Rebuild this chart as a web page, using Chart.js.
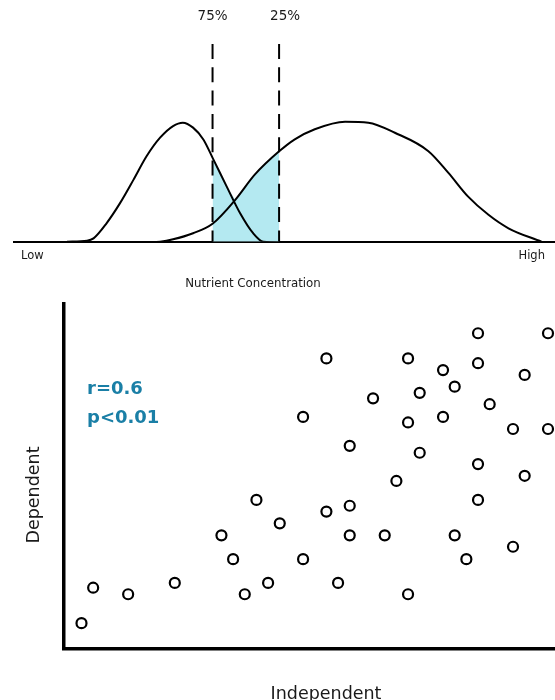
<!DOCTYPE html>
<html>
<head>
<meta charset="utf-8">
<title>Nutrient concentration / dependent vs independent</title>
<script src="https://cdn.jsdelivr.net/npm/chart.js@4.4.1/dist/chart.umd.min.js"></script>
<style>
  html, body { margin: 0; padding: 0; background: #fff; }
  #wrap { position: relative; width: 555px; height: 700px; overflow: hidden; }
  canvas { position: absolute; left: 0; }
  #densityChart { top: 0; }
  #scatterChart { top: 300px; }
</style>
</head>
<body>
<div id="wrap">
  <canvas id="densityChart" width="555" height="300"></canvas>
  <canvas id="scatterChart" width="555" height="400"></canvas>
</div>
<script>
// top panel: two density curves along the concentration axis (0 = low, 100 = high)
const lowCurveX = [9.8, 13.5, 14.7, 17.1, 19.6, 22.1, 24.5, 27.0, 29.4, 31.2, 33.1, 35.0, 36.8, 39.3, 41.8, 44.2, 46.1, 53.0];
const lowCurveY = [0, 0.5, 1.7, 9.3, 19.5, 31.4, 43.2, 52.6, 58.5, 60.2, 57.7, 51.7, 41.9, 28.0, 14.4, 4.3, 0, -0.5];
const highCurveX = [24.5, 27.0, 29.4, 33.1, 36.7, 40.9, 44.5, 49.0, 51.9, 55.6, 61.2, 65.5, 70.4, 76.6, 80.3, 83.9, 87.7, 91.4, 97.5];
const highCurveY = [-0.3, 0, 1.2, 4.3, 9.1, 21.2, 33.9, 45.7, 51.8, 56.9, 60.7, 60.2, 55.1, 45.8, 34.8, 22.9, 13.6, 6.8, 0];

// shaded area between the two cut-offs (upper edge of both curves)
const overlapX = [36.7, 38.0, 39.3, 40.9, 42.7, 44.5, 46.8, 49.0];
const overlapY = [43.1, 35.4, 28.0, 21.2, 27.6, 33.9, 40.0, 45.7];

const cutoffX = [36.7, 49.0];
const cutoffTickX = [36.7, 50.1];
const cutoffLabels = ['75%', '25%'];
const endTickX = [3.4, 95.7];
const endLabels = ['Low', 'High'];

// bottom panel: scatter
const independent = [0, 1, 4, 8, 12, 13, 14, 15, 16, 17, 19, 19, 21, 21, 22, 23, 23, 23, 25, 26,
  27, 28, 28, 28, 29, 29, 31, 31, 32, 32, 33, 34, 34, 34, 34, 35, 37, 37, 38, 38, 40, 40];
const dependent = [7.3, 17.6, 15.7, 19.0, 32.8, 25.9, 15.7, 43.1, 19.0, 36.3, 67.2, 25.9, 84.2, 39.7, 19.0, 58.8, 41.4, 32.8, 72.6, 32.8,
  48.6, 84.2, 65.6, 15.7, 74.2, 56.8, 80.8, 67.2, 76.0, 32.8, 25.9, 91.5, 82.8, 53.5, 43.1, 70.9, 63.7, 29.5, 79.4, 50.1, 91.5, 63.7];
const statLines = ['r=0.6', 'p<0.01'];

const FONT = '"DejaVu Sans", sans-serif';
Chart.defaults.font.family = FONT;
Chart.defaults.color = '#1a1a1a';

const toPoints = (xs, ys) => xs.map((x, i) => ({ x: x, y: ys[i] }));

// draws loose text (axis titles, stats) at fixed spots
function freeText(items) {
  return {
    id: 'freeText',
    afterDraw(chart) {
      const ctx = chart.ctx;
      items.forEach(t => {
        ctx.save();
        ctx.font = t.font;
        ctx.fillStyle = t.color || '#1a1a1a';
        ctx.textAlign = t.align || 'center';
        ctx.textBaseline = 'alphabetic';
        ctx.translate(t.x, t.y);
        if (t.rotate) ctx.rotate(t.rotate);
        ctx.fillText(t.text, 0, 0);
        ctx.restore();
      });
    }
  };
}

const curveStyle = {
  showLine: true,
  borderColor: '#000',
  borderWidth: 2,
  pointRadius: 0,
  pointHoverRadius: 0,
  fill: false,
  cubicInterpolationMode: 'monotone'
};

const dashStyle = {
  showLine: true,
  borderColor: '#000',
  borderWidth: 2,
  borderDash: [15, 8.3],
  pointRadius: 0,
  pointHoverRadius: 0,
  fill: false,
  tension: 0
};

const densityChart = new Chart(document.getElementById('densityChart'), {
  type: 'scatter',
  data: {
    datasets: [
      Object.assign({ data: toPoints(lowCurveX, lowCurveY) }, curveStyle),
      Object.assign({ data: toPoints(highCurveX, highCurveY) }, curveStyle),
      Object.assign({ data: [{ x: cutoffX[0], y: 100 }, { x: cutoffX[0], y: 0 }] }, dashStyle),
      Object.assign({ data: [{ x: cutoffX[1], y: 100 }, { x: cutoffX[1], y: 0 }] }, dashStyle),
      {
        data: toPoints(overlapX, overlapY),
        showLine: true,
        borderWidth: 0,
        borderColor: 'rgba(0,0,0,0)',
        backgroundColor: '#b4e9f1',
        fill: 'origin',
        tension: 0,
        pointRadius: 0,
        pointHoverRadius: 0,
        order: 5
      }
    ]
  },
  options: {
    responsive: false,
    animation: false,
    layout: { autoPadding: false, padding: { left: 14, right: 0, top: 0, bottom: 0 } },
    plugins: { legend: { display: false }, tooltip: { enabled: false } },
    scales: {
      x: {
        type: 'linear',
        position: 'bottom',
        min: 0,
        max: 100,
        grid: { display: false, drawTicks: false },
        border: { display: true, color: '#000', width: 2 },
        afterBuildTicks: s => { s.ticks = endTickX.map(v => ({ value: v })); },
        ticks: {
          autoSkip: false,
          maxRotation: 0,
          padding: 7,
          font: { size: 11.5 },
          callback: (v, i) => endLabels[i]
        },
        afterFit: s => { s.height = 58.3; }
      },
      x2: {
        type: 'linear',
        position: 'top',
        min: 0,
        max: 100,
        grid: { display: false, drawTicks: false },
        border: { display: false },
        afterBuildTicks: s => { s.ticks = cutoffTickX.map(v => ({ value: v })); },
        ticks: {
          autoSkip: false,
          maxRotation: 0,
          padding: 19,
          font: { size: 13.5 },
          callback: (v, i) => cutoffLabels[i]
        },
        afterFit: s => { s.height = 44; }
      },
      y: { display: false, min: 0, max: 100 }
    }
  },
  plugins: [freeText([
    { text: 'Nutrient Concentration', x: 253, y: 287, font: '11.8px ' + FONT }
  ])]
});

const scatterChart = new Chart(document.getElementById('scatterChart'), {
  type: 'scatter',
  data: {
    datasets: [{
      data: toPoints(independent, dependent),
      pointRadius: 5,
      pointHoverRadius: 5,
      pointBorderWidth: 2.2,
      borderColor: '#000',
      backgroundColor: '#fff'
    }]
  },
  options: {
    responsive: false,
    animation: false,
    layout: { autoPadding: false, padding: { top: 4, right: 0, left: 0, bottom: 0 } },
    plugins: { legend: { display: false }, tooltip: { enabled: false } },
    scales: {
      x: {
        min: -1.5,
        max: 40.6,
        ticks: { display: false },
        grid: { display: false, drawTicks: false },
        border: { display: true, color: '#000', width: 3.5 },
        afterFit: s => { s.height = 51.7; }
      },
      y: {
        min: 0,
        max: 100,
        ticks: { display: false },
        grid: { display: false, drawTicks: false },
        border: { display: true, color: '#000', width: 3.5 },
        afterFit: s => { s.width = 64; }
      }
    }
  },
  plugins: [freeText([
    { text: 'Independent', x: 326, y: 399.3, font: '17.5px ' + FONT },
    { text: 'Dependent', x: 38.5, y: 195, font: '17.5px ' + FONT, rotate: -Math.PI / 2 },
    { text: statLines[0], x: 87, y: 93.5, font: 'bold 18px ' + FONT, color: '#1a7fa6', align: 'left' },
    { text: statLines[1], x: 87, y: 123, font: 'bold 18px ' + FONT, color: '#1a7fa6', align: 'left' }
  ])]
});
</script>
</body>
</html>
